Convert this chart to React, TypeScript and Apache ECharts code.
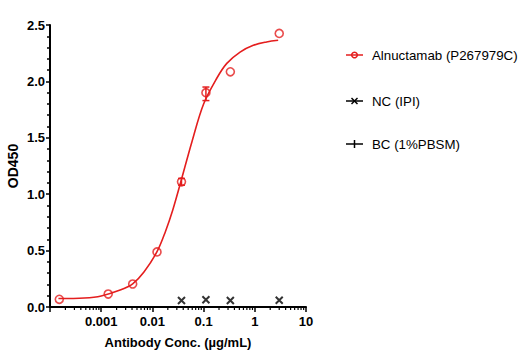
import React, { useEffect, useRef } from 'react';
import * as echarts from 'echarts';

// Alnuctamab (P267979C) measured points
const alnConc = [0.000152, 0.00137, 0.00412, 0.0123, 0.037, 0.111, 0.333, 3];
const alnOD = [0.068, 0.115, 0.204, 0.488, 1.11, 1.9, 2.085, 2.425];
// error bars: [conc, low, high]
const alnErrConc = [0.037, 0.111];
const alnErrLow = [1.08, 1.83];
const alnErrHigh = [1.14, 1.95];

// NC (IPI)
const ncConc = [0.037, 0.111, 0.333, 3];
const ncOD = [0.058, 0.065, 0.058, 0.06];

// fitted curve
const fitConc = [0.000146, 0.00047, 0.001, 0.00242, 0.00412, 0.00684, 0.0123, 0.018, 0.025, 0.0364, 0.0596, 0.1, 0.182, 0.284, 0.516, 0.935, 1.7, 2.86];
const fitOD = [0.075, 0.08, 0.098, 0.152, 0.205, 0.31, 0.49, 0.67, 0.86, 1.12, 1.47, 1.80, 2.03, 2.16, 2.26, 2.32, 2.35, 2.365];

const xTickLabels = ['0.001', '0.01', '0.1', '1', '10'];
const yTickValues = [0, 0.5, 1, 1.5, 2, 2.5];

const legendNames = ['Alnuctamab (P267979C)', 'NC (IPI)', 'BC (1%PBSM)'];

const RED = '#e41e1e';
const FONT = '"Liberation Sans", Arial, sans-serif';

const minorTicks: number[] = [];
for (let d = -4; d < 1; d++) {
  for (let k = 2; k <= 9; k++) {
    minorTicks.push(Number((k * Math.pow(10, d)).toPrecision(3)));
  }
}

export default function App() {
  const ref = useRef<HTMLDivElement>(null);
  useEffect(() => {
    if (!ref.current) return;
    const chart = echarts.init(ref.current, undefined, { renderer: 'svg' });
    const legendRows = [55, 101, 144];
    const lx1 = 346, lx2 = 363, lxc = 354.5;
    const graphic: any[] = [
      { type: 'line', shape: { x1: lx1, y1: legendRows[0], x2: lx2, y2: legendRows[0] }, style: { stroke: RED, lineWidth: 1.5 } },
      { type: 'circle', shape: { cx: lxc, cy: legendRows[0], r: 2.8 }, style: { stroke: RED, fill: 'none', lineWidth: 1.5 } },
      { type: 'line', shape: { x1: lx1, y1: legendRows[1], x2: lx2, y2: legendRows[1] }, style: { stroke: '#000', lineWidth: 1.5 } },
      { type: 'line', shape: { x1: lxc - 3, y1: legendRows[1] - 3, x2: lxc + 3, y2: legendRows[1] + 3 }, style: { stroke: '#000', lineWidth: 1.5 } },
      { type: 'line', shape: { x1: lxc + 3, y1: legendRows[1] - 3, x2: lxc - 3, y2: legendRows[1] + 3 }, style: { stroke: '#000', lineWidth: 1.5 } },
      { type: 'line', shape: { x1: lx1, y1: legendRows[2], x2: lx2, y2: legendRows[2] }, style: { stroke: '#000', lineWidth: 1.5 } },
      { type: 'line', shape: { x1: lxc, y1: legendRows[2] - 4, x2: lxc, y2: legendRows[2] + 4 }, style: { stroke: '#000', lineWidth: 1.5 } },
    ];
    legendNames.forEach((n, i) => {
      graphic.push({
        type: 'text', x: 372, y: legendRows[i],
        style: { text: n, fill: '#000', font: `13.3px ${FONT}`, verticalAlign: 'middle', align: 'left' },
      });
    });

    chart.setOption({
      animation: false,
      backgroundColor: '#fff',
      grid: { left: 50, right: 219, top: 25, bottom: 54 },
      xAxis: {
        type: 'log',
        logBase: 10,
        min: 0.0001,
        max: 10,
        name: 'Antibody Conc. (µg/mL)',
        nameLocation: 'middle',
        nameGap: 29,
        nameTextStyle: { fontFamily: FONT, fontWeight: 'bold', fontSize: 13, color: '#000' },
        axisLine: { onZero: false, lineStyle: { color: '#000', width: 2 } },
        axisTick: { show: true, length: 5, lineStyle: { color: '#000', width: 1.5 } },
        axisLabel: {
          margin: 8,
          fontFamily: FONT, fontWeight: 'bold', fontSize: 13, color: '#000',
          formatter: (v: number) => {
            const e = Math.round(Math.log10(v));
            const idx = e + 3;
            return idx >= 0 && idx < xTickLabels.length ? xTickLabels[idx] : '';
          },
        },
        splitLine: { show: false },
      },
      yAxis: {
        type: 'value',
        min: 0,
        max: 2.5,
        interval: 0.5,
        name: 'OD450',
        nameLocation: 'middle',
        nameGap: 30,
        nameTextStyle: { fontFamily: FONT, fontWeight: 'bold', fontSize: 14, color: '#000' },
        axisLine: { show: true, lineStyle: { color: '#000', width: 2 } },
        axisTick: { show: true, length: 4, lineStyle: { color: '#000', width: 1.5 } },
        minorTick: { show: true, splitNumber: 5, length: 3, lineStyle: { color: '#000', width: 1.5 } },
        axisLabel: {
          margin: 5,
          fontFamily: FONT, fontWeight: 'bold', fontSize: 13, color: '#000',
          formatter: (v: number) => {
            const i = yTickValues.findIndex((t) => Math.abs(t - v) < 1e-9);
            return i >= 0 ? yTickValues[i].toFixed(1) : '';
          },
        },
        splitLine: { show: false },
      },
      graphic,
      series: [
        {
          type: 'custom',
          name: 'minorTicks',
          clip: false,
          silent: true,
          data: minorTicks.map((v) => [v, 0]),
          renderItem: (params: any, api: any) => {
            const p = api.coord([api.value(0), 0]);
            return {
              type: 'line',
              shape: { x1: p[0], y1: p[1], x2: p[0], y2: p[1] + 3 },
              style: { stroke: '#000', lineWidth: 1.2 },
            };
          },
        },
        {
          type: 'line',
          name: 'fit',
          data: fitConc.map((c, i) => [c, fitOD[i]]),
          smooth: 0.35,
          showSymbol: false,
          symbol: 'none',
          lineStyle: { color: RED, width: 1.6 },
          z: 2,
        },
        {
          type: 'custom',
          name: 'errorbars',
          data: alnErrConc.map((c, i) => [c, alnErrLow[i], alnErrHigh[i]]),
          renderItem: (params: any, api: any) => {
            const lo = api.coord([api.value(0), api.value(1)]);
            const hi = api.coord([api.value(0), api.value(2)]);
            const w = 3.5;
            return {
              type: 'group',
              children: [
                { type: 'line', shape: { x1: lo[0], y1: lo[1], x2: hi[0], y2: hi[1] }, style: { stroke: RED, lineWidth: 1.5 } },
                { type: 'line', shape: { x1: lo[0] - w, y1: lo[1], x2: lo[0] + w, y2: lo[1] }, style: { stroke: RED, lineWidth: 1.5 } },
                { type: 'line', shape: { x1: hi[0] - w, y1: hi[1], x2: hi[0] + w, y2: hi[1] }, style: { stroke: RED, lineWidth: 1.5 } },
              ],
            };
          },
          z: 3,
        },
        {
          type: 'scatter',
          name: legendNames[0],
          data: alnConc.map((c, i) => [c, alnOD[i]]),
          symbol: 'circle',
          symbolSize: 8,
          itemStyle: { color: 'rgba(255,255,255,0)', borderColor: RED, borderWidth: 1.6 },
          z: 4,
        },
        {
          type: 'scatter',
          name: legendNames[1],
          data: ncConc.map((c, i) => [c, ncOD[i]]),
          symbol: 'path://M0,0L10,10M10,0L0,10',
          symbolSize: 7,
          itemStyle: { color: 'rgba(0,0,0,0)', borderColor: '#000', borderWidth: 2 },
          z: 4,
        },
      ],
    });
    return () => chart.dispose();
  }, []);
  return <div ref={ref} style={{ position: 'fixed', left: 0, top: 0, width: 525, height: 361 }} />;
}
